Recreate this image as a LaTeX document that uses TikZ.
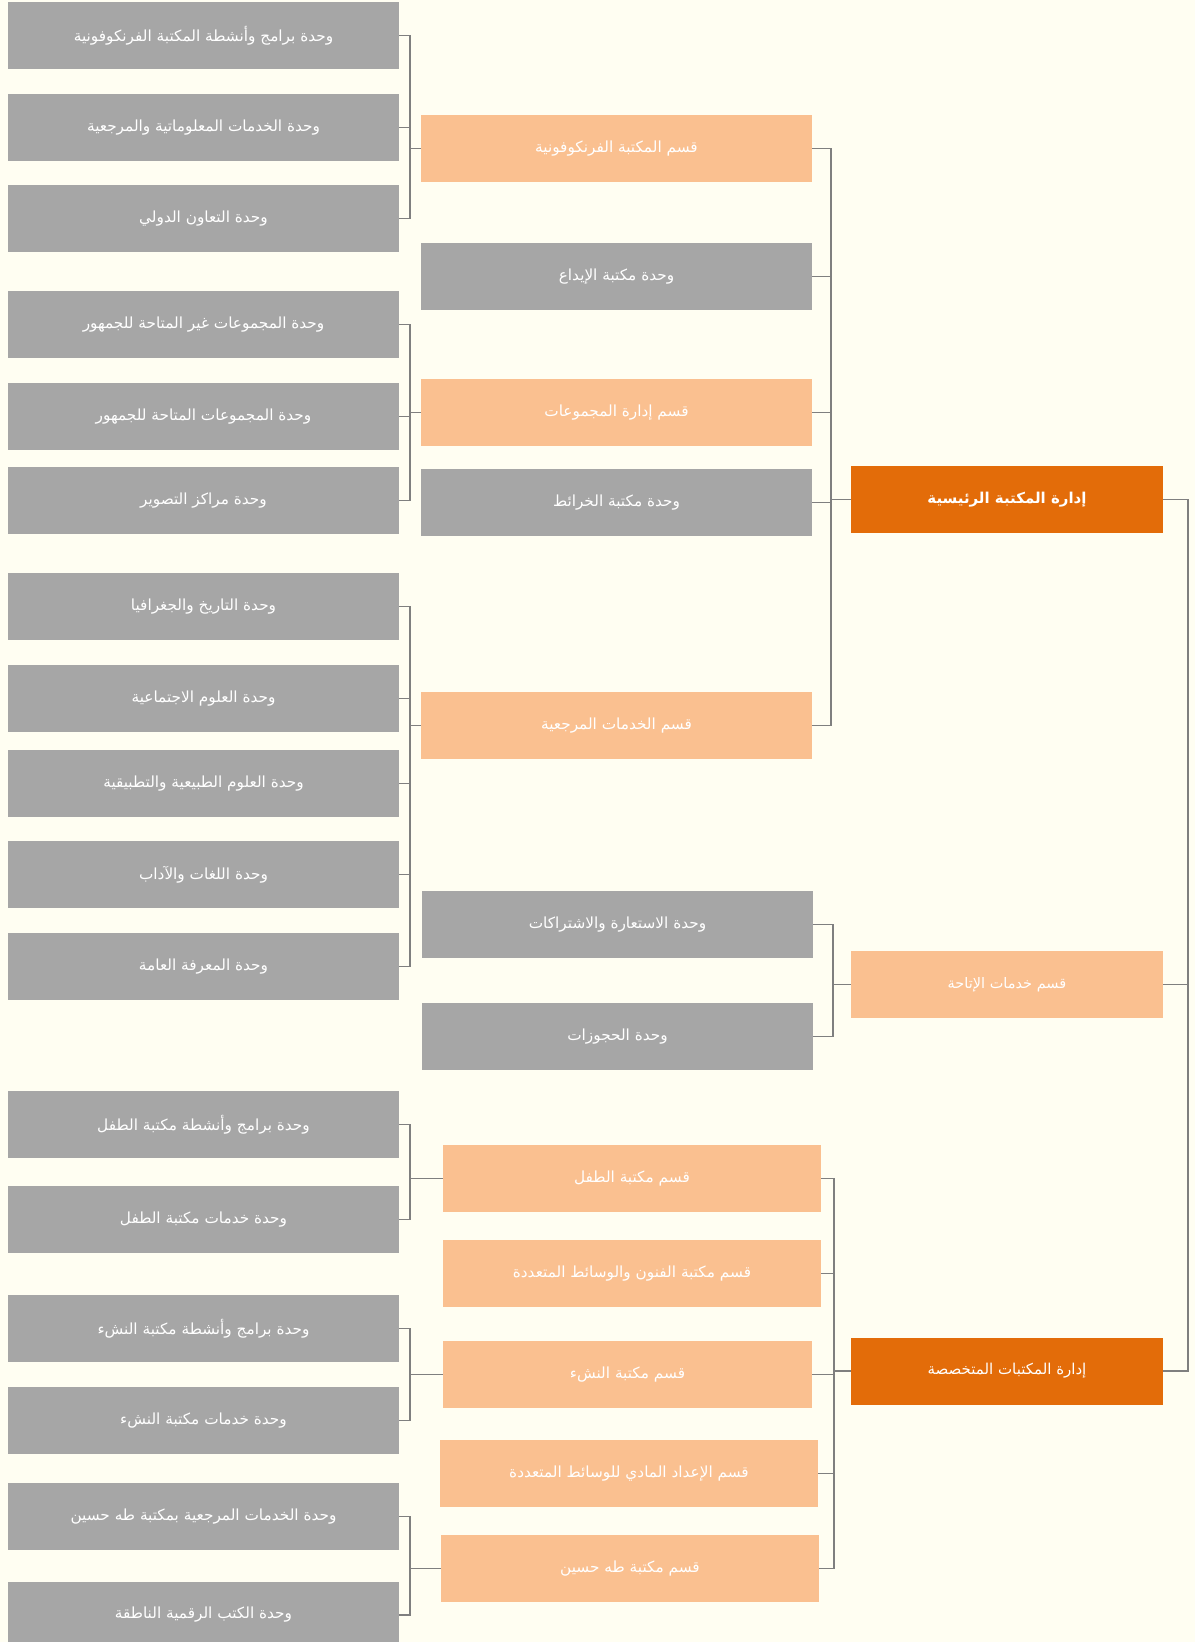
\documentclass[tikz,border=0pt]{standalone}
\usepackage{fontspec}
\usepackage{tikz}
\usetikzlibrary{calc}
\TeXXeTstate=1
\newfontfamily\arabicfont[Script=Arabic]{DejaVu Sans}
\definecolor{bgcream}{HTML}{FFFEF2}
\definecolor{unitgray}{HTML}{A6A6A6}
\definecolor{deptpeach}{HTML}{FAC090}
\definecolor{mgmtorange}{HTML}{E36C09}
\definecolor{linkgray}{HTML}{7F7F7F}
\newcommand{\artxt}[1]{{\arabicfont\beginR #1\endR}}
\tikzset{
  orgbox/.style   = {rectangle, inner sep=2pt, outer sep=0pt, text=white,
                     minimum height=67, align=center,
                     font=\fontsize{15.3}{17}\selectfont},
  unitbox/.style  = {orgbox, fill=unitgray, minimum width=391},
  deptbox/.style  = {orgbox, fill=deptpeach, minimum width=391},
  mgmtbox/.style  = {orgbox, fill=mgmtorange, minimum width=312,
                     font=\fontsize{15}{17}\selectfont},
  link/.style     = {draw=linkgray, line width=1.8},
}

\begin{document}
\begin{tikzpicture}[x=1pt,y=-1pt]
\fill[bgcream] (0,0) rectangle (1195,1642);
\useasboundingbox (0,0) rectangle (1195,1642);
\clip (0,0) rectangle (1195,1642);
% bus positions
\coordinate (busL) at (410,0);
\coordinate (busM) at (831,0);
\coordinate (busA) at (833,0);
\coordinate (busS) at (834,0);
\coordinate (busR) at (1188,0);
% left column: units
\node[unitbox] (U1)  at (203.5,35.5)   {\artxt{وحدة برامج وأنشطة المكتبة الفرنكوفونية}};
\node[unitbox] (U2)  at (203.5,127.5)  {\artxt{وحدة الخدمات المعلوماتية والمرجعية}};
\node[unitbox] (U3)  at (203.5,218.5)  {\artxt{وحدة التعاون الدولي}};
\node[unitbox] (U4)  at (203.5,324.5)  {\artxt{وحدة المجموعات غير المتاحة للجمهور}};
\node[unitbox] (U5)  at (203.5,416.5)  {\artxt{وحدة المجموعات المتاحة للجمهور}};
\node[unitbox] (U6)  at (203.5,500.5)  {\artxt{وحدة مراكز التصوير}};
\node[unitbox] (U7)  at (203.5,606.5)  {\artxt{وحدة التاريخ والجغرافيا}};
\node[unitbox] (U8)  at (203.5,698.5)  {\artxt{وحدة العلوم الاجتماعية}};
\node[unitbox] (U9)  at (203.5,783.5)  {\artxt{وحدة العلوم الطبيعية والتطبيقية}};
\node[unitbox] (U10) at (203.5,874.5)  {\artxt{وحدة اللغات والآداب}};
\node[unitbox] (U11) at (203.5,966.5)  {\artxt{وحدة المعرفة العامة}};
\node[unitbox] (U12) at (203.5,1124.5) {\artxt{وحدة برامج وأنشطة مكتبة الطفل}};
\node[unitbox] (U13) at (203.5,1219.5) {\artxt{وحدة خدمات مكتبة الطفل}};
\node[unitbox] (U14) at (203.5,1328.5) {\artxt{وحدة برامج وأنشطة مكتبة النشء}};
\node[unitbox] (U15) at (203.5,1420.5) {\artxt{وحدة خدمات مكتبة النشء}};
\node[unitbox] (U16) at (203.5,1516.5) {\artxt{وحدة الخدمات المرجعية بمكتبة طه حسين}};
\node[unitbox] (U17) at (203.5,1615)   {\artxt{وحدة الكتب الرقمية الناطقة}};
% middle column: departments and direct units
\node[deptbox] (D1)  at (616.5,148.5)  {\artxt{قسم المكتبة الفرنكوفونية}};
\node[unitbox] (D2)  at (616.5,276.5)  {\artxt{وحدة مكتبة الإيداع}};
\node[deptbox] (D3)  at (616.5,412.5)  {\artxt{قسم إدارة المجموعات}};
\node[unitbox] (D4)  at (616.5,502.5)  {\artxt{وحدة مكتبة الخرائط}};
\node[deptbox] (D5)  at (616.5,725.5)  {\artxt{قسم الخدمات المرجعية}};
\node[unitbox] (D6)  at (617.5,924.5)  {\artxt{وحدة الاستعارة والاشتراكات}};
\node[unitbox] (D7)  at (617.5,1036.5) {\artxt{وحدة الحجوزات}};
\node[deptbox,minimum width=378] (D8)  at (632,1178.5) {\artxt{قسم مكتبة الطفل}};
\node[deptbox,minimum width=378] (D9)  at (632,1273.5) {\artxt{قسم مكتبة الفنون والوسائط المتعددة}};
\node[deptbox,minimum width=369] (D10) at (627.5,1374.5) {\artxt{قسم مكتبة النشء}};
\node[deptbox,minimum width=378] (D11) at (629,1473.5) {\artxt{قسم الإعداد المادي للوسائط المتعددة}};
\node[deptbox,minimum width=378] (D12) at (630,1568.5) {\artxt{قسم مكتبة طه حسين}};
% right column: managements
\node[mgmtbox,font=\bfseries\fontsize{15}{17}\selectfont] (M1) at (1007,499.5) {\artxt{إدارة المكتبة الرئيسية}};
\node[mgmtbox,fill=deptpeach,font=\fontsize{14.5}{16}\selectfont] (M2) at (1007,984.5) {\artxt{قسم خدمات الإتاحة}};
\node[mgmtbox] (M3) at (1007,1371) {\artxt{إدارة المكتبات المتخصصة}};
% unit brackets
\draw[link] (U1.east) -- (U1.east -| busL) |- (D1.west);
\draw[link] (U3.east) -- (U3.east -| busL) |- (D1.west);
\draw[link] (U2.east) -- (U2.east -| busL);
\draw[link] (U4.east) -- (U4.east -| busL) |- (D3.west);
\draw[link] (U6.east) -- (U6.east -| busL) |- (D3.west);
\draw[link] (U5.east) -- (U5.east -| busL);
\draw[link] (U7.east) -- (U7.east -| busL) |- (D5.west);
\draw[link] (U11.east) -- (U11.east -| busL) |- (D5.west);
\draw[link] (U8.east) -- (U8.east -| busL);
\draw[link] (U9.east) -- (U9.east -| busL);
\draw[link] (U10.east) -- (U10.east -| busL);
\draw[link] (U12.east) -- (U12.east -| busL) |- (D8.west);
\draw[link] (U13.east) -- (U13.east -| busL) |- (D8.west);
\draw[link] (U14.east) -- (U14.east -| busL) |- (D10.west);
\draw[link] (U15.east) -- (U15.east -| busL) |- (D10.west);
\draw[link] (U16.east) -- (U16.east -| busL) |- (D12.west);
\draw[link] (U17.east) -- (U17.east -| busL) |- (D12.west);
% main library bus
\draw[link] (D1.east) -- (D1.east -| busM) |- (M1.west);
\draw[link] (D5.east) -- (D5.east -| busM) |- (M1.west);
\draw[link] (D2.east) -- (D2.east -| busM);
\draw[link] (D3.east) -- (D3.east -| busM);
\draw[link] (D4.east) -- (D4.east -| busM);
% access services bus
\draw[link] (D6.east) -- (D6.east -| busA) |- (M2.west);
\draw[link] (D7.east) -- (D7.east -| busA) |- (M2.west);
% specialised libraries bus
\draw[link] (D8.east) -- (D8.east -| busS) |- (M3.west);
\draw[link] (D12.east) -- (D12.east -| busS) |- (M3.west);
\draw[link] (D9.east) -- (D9.east -| busS);
\draw[link] (D10.east) -- (D10.east -| busS);
\draw[link] (D11.east) -- (D11.east -| busS);
% right bus joining the managements
\draw[link] (M1.east) -- (M1.east -| busR) |- (M3.east);
\draw[link] (M2.east) -- (M2.east -| busR);
\end{tikzpicture}
\end{document}
